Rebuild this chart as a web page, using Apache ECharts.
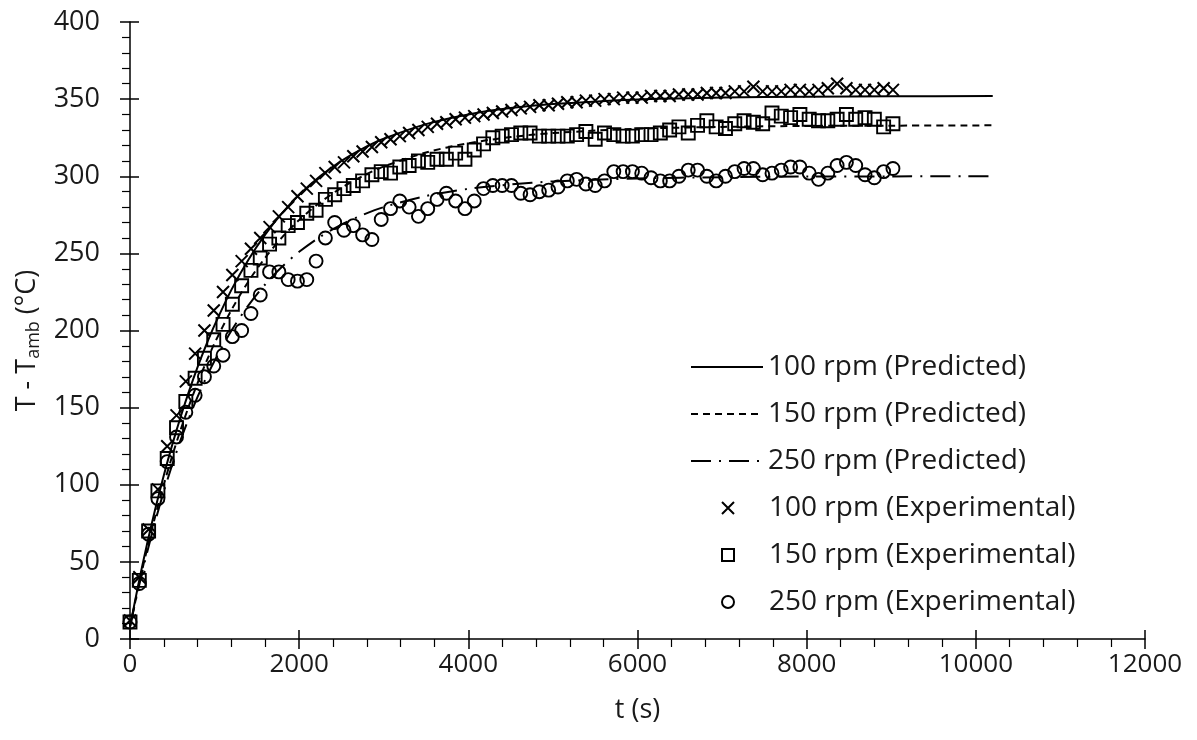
<!DOCTYPE html>
<html>
<head>
<meta charset="utf-8">
<script src="https://cdn.jsdelivr.net/npm/echarts@6/dist/echarts.min.js"></script>
<style>html,body{margin:0;padding:0;background:#fff;}#c{width:1197px;height:740px;}</style>
</head>
<body>
<div id="c"></div>
<script>
// ---- data ----
const predTimes = [0,100,200,300,400,500,600,700,800,900,1000,1200,1400,1600,1800,2000,2250,2500,2750,3000,3500,4000,4500,5000,6000,7000,8000,9000,10200];
const pred100 = [8,35.7,61.2,84.6,106.2,126,144.2,161,176.4,190.5,203.5,226.5,245.9,262.3,276.2,288,300.1,310,317.9,324.3,333.8,340.1,344.2,346.8,349.8,351,351.6,351.8,352];
const pred150 = [8,34,57.9,79.9,100.1,118.8,135.9,151.6,166.1,179.5,191.8,213.4,231.8,247.3,260.5,271.6,283.1,292.5,300.1,306.3,315.4,321.4,325.4,328,330.8,332,332.6,332.8,333];
const pred250 = [8,32.9,55.7,76.6,95.7,113.1,129.2,143.7,157.1,169.3,180.4,200,216.3,230,241.5,251,260.8,268.7,274.9,280,287.2,291.8,294.7,296.6,298.6,299.4,299.8,299.9,300];

const expTimes = [
  0,110,220,330,440,550,660,770,880,990,
  1100,1210,1320,1430,1540,1650,1760,1870,1980,2090,
  2200,2310,2420,2530,2640,2750,2860,2970,3080,3190,
  3300,3410,3520,3630,3740,3850,3960,4070,4180,4290,
  4400,4510,4620,4730,4840,4950,5060,5170,5280,5390,
  5500,5610,5720,5830,5940,6050,6160,6270,6380,6490,
  6600,6710,6820,6930,7040,7150,7260,7370,7480,7590,
  7700,7810,7920,8030,8140,8250,8360,8470,8580,8690,
  8800,8910,9020];
const exp100 = [
  12,40,71,97,125,145,167,185,200,213,
  225,236,245,253,260,267,274,280,287,292,
  297,302,306,309,313,316,319,322,324,326,
  328,330,332,334,335,337,338,339,340,341,
  342,343,344,345,346,346,347,348,348,349,
  349,350,350,351,351,351,352,352,352,353,
  353,353,354,354,354,355,355,358,355,355,
  355,356,356,355,356,357,360,357,356,356,
  356,357,356];
const exp150 = [
  11,38,70,96,117,137,154,169,182,194,
  204,217,229,239,247,256,260,268,270,276,
  278,285,288,292,294,297,301,303,302,306,
  307,310,309,311,311,315,311,317,321,325,
  326,327,328,328,326,326,326,326,327,329,
  324,328,327,326,326,327,327,328,330,332,
  328,333,336,332,331,334,336,335,334,341,
  339,338,340,337,336,336,337,340,337,338,
  337,332,334];
const exp250 = [
  11,36,68,91,115,131,147,158,170,177,
  184,196,200,211,223,238,238,233,232,233,
  245,260,270,265,268,262,259,272,279,284,
  280,274,279,285,289,284,279,284,292,294,
  294,294,289,288,290,291,293,297,298,295,
  294,297,303,303,303,302,299,297,297,300,
  304,304,300,297,300,303,305,305,301,302,
  304,306,306,302,298,302,307,309,307,301,
  299,303,305];

const xTicks = [0,2000,4000,6000,8000,10000,12000];
const yTicks = [0,50,100,150,200,250,300,350,400];

// ---- chart ----
const FONT = "'Open Sans', sans-serif";
const TXT = '#1a1a1a';
const zip = (xs, ys) => xs.map((x, i) => [x, ys[i]]);
const mk = { color: 'rgba(0,0,0,0)', borderColor: '#000', borderWidth: 1.9, opacity: 1 };
const mkX = { color: 'rgba(0,0,0,0)', borderColor: '#000', borderWidth: 2, opacity: 1 };
const crossPath = 'path://M0,0L10,10M10,0L0,10';

const chart = echarts.init(document.getElementById('c'), null, { renderer: 'canvas' });

const baseX = { type: 'value', min: xTicks[0], max: xTicks[xTicks.length - 1], interval: 2000, gridIndex: 0, position: 'bottom', splitLine: { show: false } };
const baseY = { type: 'value', min: yTicks[0], max: yTicks[yTicks.length - 1], interval: 50, gridIndex: 0, position: 'left', splitLine: { show: false } };

chart.setOption({
  animation: false,
  backgroundColor: '#fff',
  grid: { left: 130, right: 52, top: 22, bottom: 101, containLabel: false },
  xAxis: [
    Object.assign({}, baseX, {
      name: 't (s)', nameLocation: 'middle', nameGap: 58,
      nameTextStyle: { fontFamily: FONT, fontSize: 27, color: TXT },
      axisLine: { show: true, lineStyle: { color: '#000', width: 1.5 } },
      axisTick: { show: true, length: 10, lineStyle: { color: '#000', width: 1.5 } },
      minorTick: { show: true, splitNumber: 5, length: 8, lineStyle: { color: '#000', width: 1.2 } },
      axisLabel: { fontFamily: FONT, fontSize: 26, color: TXT, margin: 13, formatter: v => String(v) }
    }),
    Object.assign({}, baseX, {
      axisLine: { show: false }, axisLabel: { show: false },
      axisTick: { show: true, inside: true, length: 9, lineStyle: { color: '#000', width: 1.5 } }
    })
  ],
  yAxis: [
    Object.assign({}, baseY, {
      name: '{a|T - T}{b|amb}{a| (°C)}', nameLocation: 'middle', nameGap: 86, nameRotate: 90,
      nameTextStyle: {
        padding: [0, 20, 0, 0],
        rich: {
          a: { fontFamily: FONT, fontSize: 27, color: TXT, lineHeight: 30 },
          b: { fontFamily: FONT, fontSize: 18, color: TXT, lineHeight: 18, verticalAlign: 'bottom' }
        }
      },
      axisLine: { show: true, lineStyle: { color: '#000', width: 1.5 } },
      axisTick: { show: true, length: 10, lineStyle: { color: '#000', width: 1.5 } },
      minorTick: { show: true, splitNumber: 5, length: 8, lineStyle: { color: '#000', width: 1.2 } },
      axisLabel: { fontFamily: FONT, fontSize: 27, color: TXT, margin: 30 }
    }),
    Object.assign({}, baseY, {
      axisLine: { show: false }, axisLabel: { show: false },
      axisTick: { show: true, inside: true, length: 9, lineStyle: { color: '#000', width: 1.5 } }
    })
  ],
  legend: [
    {
      orient: 'vertical', left: 690, top: 351, padding: 0, itemWidth: 72, itemHeight: 14, itemGap: 15,
      itemStyle: { opacity: 0 },
      textStyle: { fontFamily: FONT, fontSize: 28, color: TXT, lineHeight: 32 },
      data: ['100 rpm (Predicted)', '150 rpm (Predicted)', '250 rpm (Predicted)']
    },
    {
      orient: 'vertical', left: 721, top: 492, padding: 0, itemWidth: 12, itemHeight: 12, itemGap: 15,
      textStyle: { fontFamily: FONT, fontSize: 28, color: TXT, lineHeight: 32, padding: [0, 0, 0, 30] },
      data: ['100 rpm (Experimental)', '150 rpm (Experimental)', '250 rpm (Experimental)']
    }
  ],
  series: [
    { name: '100 rpm (Experimental)', type: 'scatter', xAxisIndex: 0, yAxisIndex: 0, symbol: crossPath, symbolSize: 12,
      itemStyle: mkX, data: zip(expTimes, exp100) },
    { name: '150 rpm (Experimental)', type: 'scatter', xAxisIndex: 0, yAxisIndex: 0, symbol: 'rect', symbolSize: 13,
      itemStyle: mk, data: zip(expTimes, exp150) },
    { name: '250 rpm (Experimental)', type: 'scatter', xAxisIndex: 0, yAxisIndex: 0, symbol: 'circle', symbolSize: 13,
      itemStyle: mk, data: zip(expTimes, exp250) },
    { name: '100 rpm (Predicted)', type: 'line', xAxisIndex: 0, yAxisIndex: 0, symbol: 'none', showSymbol: false,
      smooth: 0.3, color: '#000',
      lineStyle: { color: '#000', width: 2, type: 'solid' }, data: zip(predTimes, pred100) },
    { name: '150 rpm (Predicted)', type: 'line', xAxisIndex: 0, yAxisIndex: 0, symbol: 'none', showSymbol: false,
      smooth: 0.3, color: '#000',
      lineStyle: { color: '#000', width: 2, type: [7, 5] }, data: zip(predTimes, pred150) },
    { name: '250 rpm (Predicted)', type: 'line', xAxisIndex: 0, yAxisIndex: 0, symbol: 'none', showSymbol: false,
      smooth: 0.3, color: '#000',
      lineStyle: { color: '#000', width: 2, type: [20, 8, 2, 8] }, data: zip(predTimes, pred250) }
  ]
});
</script>
</body>
</html>
